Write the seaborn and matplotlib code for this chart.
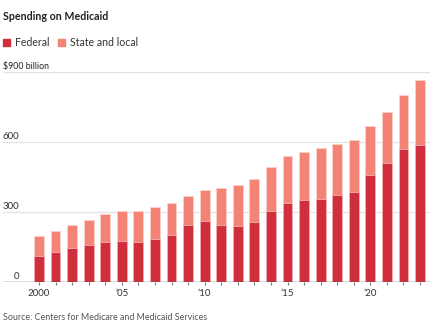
import matplotlib
matplotlib.use("Agg")
import matplotlib.pyplot as plt
import seaborn as sns
import pandas as pd
import numpy as np

years = list(range(2000, 2024))
federal = [111, 130, 144, 159, 173, 174, 171, 183, 203, 246, 263,
           244, 241, 256, 303, 340, 351, 356, 371, 384, 459, 509, 569, 587]
total = [197, 220, 246, 266, 290, 306, 303, 323, 340, 370, 394,
         403, 416, 441, 494, 539, 559, 573, 593, 609, 667, 730, 803, 866]
state_local = [t - f for t, f in zip(total, federal)]
y_ticks = [0, 300, 600, 900]
y_labels = ["0", "300", "600", "$900 billion"]
x_ticks = [2000, 2005, 2010, 2015, 2020]
x_labels = ["2000", "\u201905", "\u201910", "\u201915", "\u201920"]

sns.set_theme(style="white")
plt.rcParams['font.family'] = ['Lato', 'DejaVu Sans']

FED = "#d02e3c"
STATE = "#f28375"

df = pd.DataFrame({"year": years, "federal": federal, "state": state_local, "total": total})

fig = plt.figure(figsize=(4.32, 3.34), dpi=100)
ax = fig.add_axes([3/432, (334-282)/334, (430-3)/432, (282-72)/334])
ax.set_ylim(0, 900)
ax.set_xlim(1997.83, 2023.6)

width = 0.6
ax.bar(df["year"], df["total"], width=width, color=STATE, edgecolor="#fbd0c9", linewidth=0.6, zorder=3)
ax.bar(df["year"], df["federal"], width=width, color=FED, edgecolor="#f4b0b4", linewidth=0.6, zorder=4)

for v in y_ticks[1:]:
    ax.axhline(v, color="#e3e3e3", lw=0.9, zorder=1)
ax.axhline(0, color="#555555", lw=1.0, zorder=5)

for s in ax.spines.values():
    s.set_visible(False)
ax.set_yticks([])
ax.set_xticks(years)
ax.set_xticklabels([""] * len(years))
ax.tick_params(axis="x", length=2.5, width=0.8, color="#777777", direction="out", pad=2, bottom=True)
for xv, lab in zip(x_ticks, x_labels):
    ax.text(xv, -28, lab, ha="center", va="top", fontsize=7, color="#333333", clip_on=False)

ax.set_ylabel("")
ax.set_xlabel("")

for v, lab in zip(y_ticks, y_labels):
    if v == 900:
        fig.text(3/432, 1 - 71/334, lab, ha="left", va="bottom", fontsize=6.3, color="#222222")
    else:
        ax.text(1997.83 + 1.0, v + 6, lab, ha="right", va="bottom", fontsize=7, color="#333333")

fig.text(3/432, 1 - 16/334, "Spending on Medicaid", ha="left", va="center", fontsize=7.7, fontweight="bold", color="#222222")

# legend
fig.patches.append(plt.Rectangle((3/432, 1 - 46/334), 7/432, 7/334, transform=fig.transFigure, color=FED))
fig.text(15/432, 1 - 42.5/334, "Federal", ha="left", va="center", fontsize=7.6, color="#333333")
fig.patches.append(plt.Rectangle((58/432, 1 - 46/334), 7/432, 7/334, transform=fig.transFigure, color=STATE))
fig.text(70/432, 1 - 42.5/334, "State and local", ha="left", va="center", fontsize=7.6, color="#333333")

fig.text(3/432, 1 - 318/334, "Source: Centers for Medicare and Medicaid Services", ha="left", va="center", fontsize=6.4, color="#555555")

fig.savefig("out.png", dpi=100, facecolor="white")
